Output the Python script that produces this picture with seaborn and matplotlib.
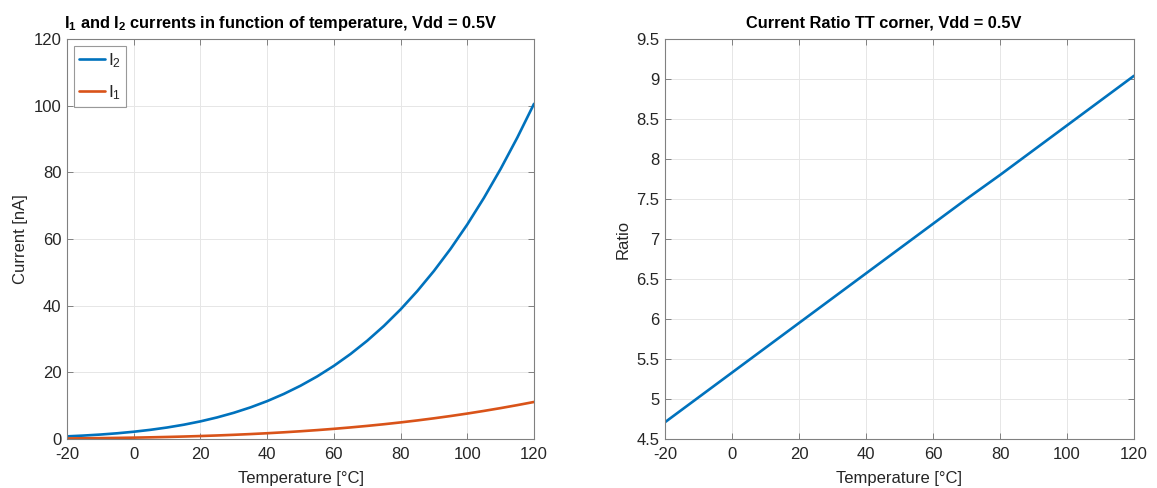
import numpy as np
import pandas as pd
import matplotlib
matplotlib.use("Agg")
import matplotlib.pyplot as plt
import seaborn as sns

# ---- data ----
temperature = [-20, -15, -10, -5, 0, 5, 10, 15, 20, 25, 30, 35, 40, 45, 50,
               55, 60, 65, 70, 75, 80, 85, 90, 95, 100, 105, 110, 115, 120]
i2_nA = [0.792, 1.032, 1.333, 1.711, 2.178, 2.751, 3.447, 4.285, 5.287,
         6.473, 7.863, 9.482, 11.36, 13.52, 15.98, 18.77, 21.94, 25.50,
         29.48, 33.92, 38.87, 44.36, 50.41, 57.06, 64.36, 72.35, 81.03,
         90.43, 100.55]
i1_nA = [0.168, 0.212, 0.266, 0.331, 0.409, 0.502, 0.611, 0.739, 0.889,
         1.060, 1.256, 1.478, 1.729, 2.010, 2.323, 2.668, 3.051, 3.472,
         3.931, 4.431, 4.977, 5.569, 6.208, 6.895, 7.635, 8.428, 9.271,
         10.166, 11.110]
ratio_temp = [-20, -10, 0, 10, 20, 30, 40, 50, 60, 70, 80, 90, 100, 110, 120]
ratio_vals = [4.71, 5.02, 5.33, 5.64, 5.95, 6.26, 6.57, 6.88, 7.19, 7.50,
              7.80, 8.11, 8.42, 8.73, 9.04]

x_ticks = [-20, 0, 20, 40, 60, 80, 100, 120]
left_yticks = [0, 20, 40, 60, 80, 100, 120]
right_yticks = [4.5, 5, 5.5, 6, 6.5, 7, 7.5, 8, 8.5, 9, 9.5]
right_ytick_labels = ["4.5", "5", "5.5", "6", "6.5", "7", "7.5", "8", "8.5", "9", "9.5"]

BLUE = "#0072BD"
ORANGE = "#D95319"
TXT = "#262626"
EDGE = "#808080"

sns.set_theme(style="ticks")
plt.rcParams["font.family"] = ["Liberation Sans", "DejaVu Sans"]
plt.rcParams["axes.unicode_minus"] = False
plt.rcParams["mathtext.fontset"] = "custom"
plt.rcParams["mathtext.rm"] = "Liberation Sans"
plt.rcParams["mathtext.it"] = "Liberation Sans"
plt.rcParams["mathtext.bf"] = "Liberation Sans:bold"
plt.rcParams["mathtext.default"] = "rm"

fig = plt.figure(figsize=(11.57, 4.88), dpi=100)
fig.patch.set_facecolor("white")
ax1 = fig.add_axes([67 / 1157, 49 / 488, 467 / 1157, 400 / 488])
ax2 = fig.add_axes([665 / 1157, 49 / 488, 469 / 1157, 400 / 488])

df_cur = pd.DataFrame({
    "Temperature": temperature * 2,
    "Current": i2_nA + i1_nA,
    "series": ["$I_2$"] * len(temperature) + ["$I_1$"] * len(temperature),
})
df_ratio = pd.DataFrame({"Temperature": ratio_temp, "Ratio": ratio_vals})

sns.lineplot(data=df_cur, x="Temperature", y="Current", hue="series",
             palette={"$I_2$": BLUE, "$I_1$": ORANGE}, linewidth=1.9,
             ax=ax1, legend=True)
sns.lineplot(data=df_ratio, x="Temperature", y="Ratio", color=BLUE,
             linewidth=1.9, ax=ax2)


def style(ax):
    ax.set_xlim(-20, 120)
    ax.set_xticks(x_ticks)
    ax.grid(True, color="#e6e6e6", linewidth=0.7)
    ax.set_axisbelow(True)
    for s in ax.spines.values():
        s.set_visible(True)
        s.set_color(EDGE)
        s.set_linewidth(0.8)
    ax.tick_params(direction="in", top=True, right=True, length=4.5,
                   width=0.7, color=EDGE, labelsize=12, labelcolor=TXT)
    ax.tick_params(axis="x", pad=6)
    ax.tick_params(axis="y", pad=4)
    ax.set_xlabel("Temperature [°C]", fontsize=12, color=TXT, labelpad=6)
    ax.set_facecolor("white")


style(ax1)
ax1.set_ylim(0, 120)
ax1.set_yticks(left_yticks)
ax1.set_ylabel("Current [nA]", fontsize=12, color=TXT, labelpad=4)
ax1.set_title(r"$\mathbf{I_1}$ and $\mathbf{I_2}$ currents in function of temperature, Vdd = 0.5V",
              fontsize=11.8, fontweight="bold", color="black", pad=8, x=0.458)
leg = ax1.legend(loc="upper left", frameon=True, fancybox=False,
                 fontsize=12.5, handlelength=1.5, handletextpad=0.15,
                 borderaxespad=0.4, borderpad=0.3, labelspacing=0.75,
                 title=None)
leg.get_frame().set_edgecolor(EDGE)
leg.get_frame().set_linewidth(0.8)

style(ax2)
ax2.set_ylim(4.5, 9.5)
ax2.set_yticks(right_yticks)
ax2.set_yticklabels(right_ytick_labels)
ax2.set_ylabel("Ratio", fontsize=12, color=TXT, labelpad=4)
ax2.set_title("Current Ratio TT corner, Vdd = 0.5V", fontsize=11.8,
              fontweight="bold", color="black", pad=8, x=0.466)

fig.savefig("out.png", dpi=100, facecolor="white")
